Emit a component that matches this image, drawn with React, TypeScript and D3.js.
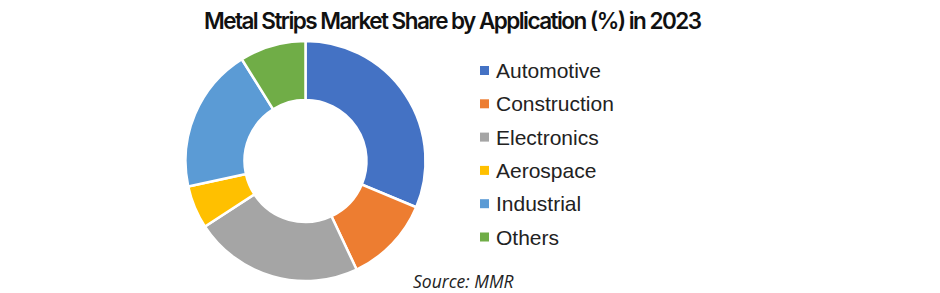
import React from "react";
import * as d3 from "d3";

const categories = ["Automotive", "Construction", "Electronics", "Aerospace", "Industrial", "Others"];
const shares = [31.3, 11.7, 22.8, 5.8, 19.5, 8.9];
const colors = ["#4472C4", "#ED7D31", "#A5A5A5", "#FFC000", "#5B9BD5", "#70AD47"];
const title = "Metal Strips Market Share by Application (%) in 2023";
const source = "Source: MMR";

const W = 940;
const H = 293;

export default function App() {
  const cx = 305.5;
  const cy = 161;
  const outerR = 120;
  const innerR = 61;

  const pie = d3.pie<number>().sort(null).value((d) => d);
  const arcs = pie(shares);
  const arcGen = d3.arc<d3.PieArcDatum<number>>().innerRadius(innerR).outerRadius(outerR);

  const legendY = d3.scalePoint<string>().domain(categories).range([70.5, 237]);

  return (
    <svg width={W} height={H} style={{ position: "absolute", left: 0, top: 0, background: "#fff" }}>
      <rect x={0} y={0} width={W} height={H} fill="#fff" />
      <text
        x={204}
        y={28.5}
        fontFamily="Inter, 'Liberation Sans', Arial, sans-serif"
        fontWeight={600}
        fontSize={22.5}
        fill="#111"
        textLength={498}
        lengthAdjust="spacing"
      >
        {title}
      </text>
      <g transform={`translate(${cx},${cy})`}>
        {arcs.map((a, i) => (
          <path key={categories[i]} d={arcGen(a) || ""} fill={colors[i]} stroke="#fff" strokeWidth={2.5} strokeLinejoin="miter" />
        ))}
      </g>
      <g fontFamily="'Liberation Sans', Arial, sans-serif" fontSize={21} fill="#222">
        {categories.map((c, i) => (
          <g key={c} transform={`translate(480,${legendY(c)})`}>
            <rect x={0} y={-4.5} width={9} height={9} fill={colors[i]} />
            <text x={16} y={7.5}>{c}</text>
          </g>
        ))}
      </g>
      <text
        x={413}
        y={288}
        fontFamily="'Open Sans', 'Liberation Sans', sans-serif"
        fontStyle="italic"
        fontSize={17.5}
        fill="#222"
      >
        {source}
      </text>
    </svg>
  );
}
